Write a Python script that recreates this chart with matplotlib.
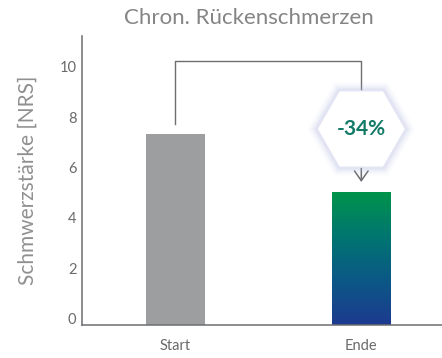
import numpy as np
import matplotlib
matplotlib.use("Agg")
import matplotlib.pyplot as plt
import matplotlib.transforms as mtransforms
from matplotlib.patches import RegularPolygon
from matplotlib.colors import LinearSegmentedColormap

# data
categories = ["Start", "Ende"]
values = [7.6, 5.3]
change_label = "-34%"
title = "Chron. Rückenschmerzen"
ylabel = "Schmwerzstärke [NRS]"
yticks = [0, 2, 4, 6, 8, 10]

plt.rcParams['font.family'] = ['Lato', 'DejaVu Sans']

axis_grey = '#6d6e71'
text_grey = '#858585'

fig = plt.figure(figsize=(4.42, 3.58), dpi=100)
ax = fig.add_axes([82 / 442, 33 / 358, 360 / 442, 289 / 358])

x = np.arange(len(categories))
width = 0.316
bars = ax.bar(x, values, width=width, color=['#9d9ea0', 'none'], zorder=2)

# gradient fill for the second bar
grad = LinearSegmentedColormap.from_list(
    'ende', ['#1d3a8f', '#0b5886', '#007670', '#00944a'])
b = bars[1]
img = ax.imshow(np.linspace(0, 1, 256).reshape(-1, 1), cmap=grad, aspect='auto',
                origin='lower',
                extent=[b.get_x(), b.get_x() + b.get_width(), 0, b.get_height()],
                zorder=2)
img.set_clip_path(b)

ax.set_xlim(-0.502, 1.434)
ax.set_ylim(0, 11.5)

for side in ['top', 'right']:
    ax.spines[side].set_visible(False)
for side in ['left', 'bottom']:
    ax.spines[side].set_color(axis_grey)
    ax.spines[side].set_linewidth(1.1)

ax.set_xticks(x)
ax.set_xticklabels(categories)
ax.set_yticks(yticks)
ax.tick_params(length=0, colors='#6a6a6a', labelsize=10.5)
ax.tick_params(axis='x', pad=10)
ax.tick_params(axis='y', pad=4)
shift = mtransforms.ScaledTranslation(0, 0.067, fig.dpi_scale_trans)
for lab in ax.get_yticklabels():
    lab.set_transform(lab.get_transform() + shift)

fig.text(248.5 / 442, 1 - 18 / 358, title, ha='center', va='center',
         fontsize=16, color=text_grey)
ax.set_ylabel(ylabel, fontsize=15, color='#909090', labelpad=16)

# connector from Start to Ende
top = 10.5
ax.plot([x[0], x[0], x[1], x[1]], [values[0] + 0.4, top, top, 7.8],
        color=axis_grey, lw=1.0, zorder=3)

# hexagon badge with soft glow
hx, hy = x[1], 7.8
hex_trans = fig.dpi_scale_trans + mtransforms.ScaledTranslation(hx, hy, ax.transData)
for lw, a in [(12, 0.05), (9, 0.07), (6, 0.1), (3.5, 0.16)]:
    ax.add_patch(RegularPolygon((0, 0), 6, radius=0.44, orientation=np.pi / 6,
                                transform=hex_trans, facecolor='none',
                                edgecolor='#aeb3e0', lw=lw, alpha=a, zorder=4))
ax.add_patch(RegularPolygon((0, 0), 6, radius=0.44, orientation=np.pi / 6,
                            transform=hex_trans, facecolor='white',
                            edgecolor='#e3e5f4', lw=0.8, zorder=5))
ax.text(hx, hy, change_label, ha='center', va='center', fontsize=15,
        fontweight='bold', color='#137a68', zorder=6)

# arrow down to the Ende bar
ax.annotate('', xy=(x[1], 5.58), xytext=(x[1], 6.35),
            arrowprops=dict(arrowstyle='->,head_width=0.35,head_length=0.5',
                            color=axis_grey, lw=1.1, mutation_scale=14),
            zorder=3)

fig.savefig('out.png', dpi=100)
